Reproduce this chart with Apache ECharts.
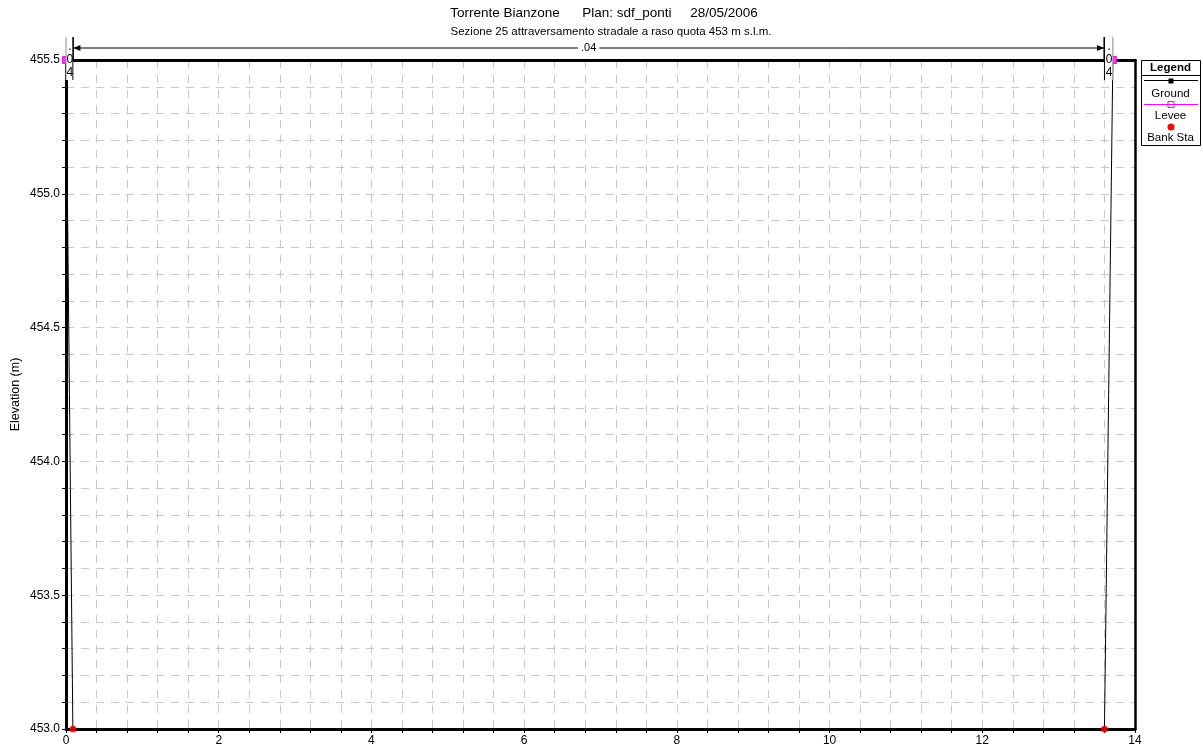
<!DOCTYPE html>
<html>
<head>
<meta charset="utf-8">
<title>Torrente Bianzone - Sezione 25</title>
<script src="https://cdn.jsdelivr.net/npm/echarts@6/dist/echarts.min.js"></script>
<style>
  html, body { margin: 0; padding: 0; background: #fff; }
  #chart { width: 1203px; height: 754px; }
</style>
</head>
<body>
<div id="chart"></div>
<script>
// Cross-section geometry (station in m, elevation in m s.l.m.)
const groundStation = [0, 0.09, 13.6, 13.71];
const groundElev = [455.5, 453.0, 453.0, 455.5];
const leveeStation = [0, 13.71];
const leveeElev = [455.5, 455.5];
const bankStation = [0.09, 13.6];
const bankElev = [453.0, 453.0];
// Manning's n regions: break stations and the n value of each region
const nBreaks = [0, 0.09, 13.6, 13.71];
const nValues = ['.04', '.04', '.04'];
// Axis ranges and labelled ticks
const xMin = 0, xMax = 14, xStep = 0.4, xLabelStep = 2;
const yMin = 453.0, yMax = 455.5, yStep = 0.1, yLabelStep = 0.5;

const FONT = '"Liberation Sans", Arial, sans-serif';

const chart = echarts.init(document.getElementById('chart'));

const zip = (xs, ys) => xs.map((x, i) => [x, ys[i]]);

const nRegions = nValues.map((v, i) => [nBreaks[i], nBreaks[i + 1]]);

// Manning's n annotation above the plot: arrows for wide regions,
// stacked characters for regions too narrow to hold the label.
function renderNValue(params, api) {
  const i = params.dataIndex;
  const start = api.value(0), end = api.value(1);
  const p0 = api.coord([start, yMax]);
  const p1 = api.coord([end, yMax]);
  const yTop = p0[1];
  const lineY = yTop - 12;
  const barTop = yTop - 23;
  const children = [];
  const last = nRegions.length - 1;
  const barColor = (isOuter) => isOuter ? '#8a8a8a' : '#000';
  const text = nValues[i];

  if (p1[0] - p0[0] > 40) {
    const xa = p0[0] + 0.5, xb = p1[0] - 0.5;
    children.push({ type: 'line', shape: { x1: xa, y1: lineY, x2: xb, y2: lineY },
      style: { stroke: '#000', lineWidth: 1 } });
    children.push({ type: 'polygon', shape: { points: [[xa, lineY], [xa + 7, lineY - 3], [xa + 7, lineY + 3]] },
      style: { fill: '#000' } });
    children.push({ type: 'polygon', shape: { points: [[xb, lineY], [xb - 7, lineY - 3], [xb - 7, lineY + 3]] },
      style: { fill: '#000' } });
    children.push({ type: 'text', x: (xa + xb) / 2, y: lineY,
      style: { text: text, fontFamily: FONT, fontSize: 11, fill: '#000', align: 'center',
        verticalAlign: 'middle', backgroundColor: '#fff', padding: [0, 3] } });
    children.push({ type: 'line', shape: { x1: xa, y1: barTop, x2: xa, y2: yTop },
      style: { stroke: barColor(i === 0), lineWidth: 1 } });
    children.push({ type: 'line', shape: { x1: xb, y1: barTop, x2: xb, y2: yTop },
      style: { stroke: barColor(i === last), lineWidth: 1 } });
  } else {
    const mid = (p0[0] + p1[0]) / 2 + 0.5;
    children.push({ type: 'rect', shape: { x: p0[0], y: yTop - 6, width: p1[0] - p0[0], height: 26 },
      style: { fill: '#fff' } });
    children.push({ type: 'line', shape: { x1: p0[0], y1: barTop, x2: p0[0], y2: yTop + 20 },
      style: { stroke: barColor(i === 0), lineWidth: 1 } });
    children.push({ type: 'line', shape: { x1: p1[0], y1: barTop, x2: p1[0], y2: yTop + 20 },
      style: { stroke: barColor(i === last), lineWidth: 1 } });
    text.split('').forEach((g, k) => {
      children.push({ type: 'text', x: mid, y: yTop - 13 + k * 13,
        style: { text: g, fontFamily: FONT, fontSize: 12, fill: '#000', align: 'center', verticalAlign: 'middle' } });
    });
  }
  return { type: 'group', children: children };
}

const legendX = 1141, legendY = 60, legendW = 59, legendH = 85;
const lcx = legendX + legendW / 2;
const legendText = (t, y, bold) => ({
  type: 'text', x: lcx, y: y,
  style: { text: t, fontFamily: FONT, fontSize: 11.5, fontWeight: bold ? 'bold' : 'normal',
    fill: '#000', align: 'center', verticalAlign: 'middle' }, z: 10
});

const gridDash = { color: '#c8c8c8', type: [8, 7], width: 1 };
const frameAxis = { show: true, onZero: false, lineStyle: { color: '#000', width: 3 } };

const option = {
  animation: false,
  backgroundColor: '#fff',
  textStyle: { fontFamily: FONT },
  grid: { left: 66, right: 68, top: 60, bottom: 25, containLabel: false, outerBoundsMode: 'none' },
  xAxis: [
    {
      type: 'value', min: xMin, max: xMax, interval: xStep,
      axisLine: frameAxis,
      axisTick: { show: true, length: 4, lineStyle: { color: '#000' } },
      axisLabel: {
        color: '#000', fontSize: 12, margin: 6, showMinLabel: true, showMaxLabel: true,
        formatter: v => Math.abs(v / xLabelStep - Math.round(v / xLabelStep)) < 1e-6 ? String(Math.round(v)) : ''
      },
      splitLine: { show: true, lineStyle: gridDash }
    },
    {
      type: 'value', position: 'top', min: xMin, max: xMax,
      axisLine: frameAxis, axisTick: { show: false }, axisLabel: { show: false }, splitLine: { show: false }
    }
  ],
  yAxis: [
    {
      type: 'value', min: yMin, max: yMax, interval: yStep,
      name: 'Elevation (m)', nameLocation: 'middle', nameGap: 44, nameRotate: 90, nameMoveOverlap: false,
      nameTextStyle: { color: '#000', fontSize: 12.5, fontFamily: FONT },
      axisLine: frameAxis,
      axisTick: { show: true, length: 4, lineStyle: { color: '#000' } },
      axisLabel: {
        color: '#000', fontSize: 12, margin: 6, showMinLabel: true, showMaxLabel: true,
        formatter: v => Math.abs(v / yLabelStep - Math.round(v / yLabelStep)) < 1e-6 ? v.toFixed(1) : ''
      },
      splitLine: { show: true, lineStyle: gridDash }
    },
    {
      type: 'value', position: 'right', min: yMin, max: yMax,
      axisLine: { show: true, onZero: false, lineStyle: { color: '#000', width: 2.5 } },
      axisTick: { show: false }, axisLabel: { show: false }, splitLine: { show: false }
    }
  ],
  graphic: [
    { type: 'text', x: 604, y: 13, style: { text: 'Torrente Bianzone      Plan: sdf_ponti     28/05/2006',
      fontFamily: FONT, fontSize: 13.5, fill: '#000', align: 'center', verticalAlign: 'middle' } },
    { type: 'text', x: 611, y: 32, style: { text: 'Sezione 25 attraversamento stradale a raso quota 453 m s.l.m.',
      fontFamily: FONT, fontSize: 11.5, fill: '#000', align: 'center', verticalAlign: 'middle' } },
    { type: 'rect', shape: { x: legendX + 0.5, y: legendY + 0.5, width: legendW, height: legendH },
      style: { fill: '#fff', stroke: '#000', lineWidth: 1 }, z: 9 },
    legendText('Legend', legendY + 8, true),
    { type: 'line', shape: { x1: legendX, y1: legendY + 15.5, x2: legendX + legendW, y2: legendY + 15.5 },
      style: { stroke: '#000', lineWidth: 1 }, z: 10 },
    { type: 'line', shape: { x1: legendX + 3, y1: legendY + 20.5, x2: legendX + legendW - 2, y2: legendY + 20.5 },
      style: { stroke: '#000', lineWidth: 1 }, z: 10 },
    { type: 'rect', shape: { x: lcx - 2, y: legendY + 18.5, width: 5, height: 5 }, style: { fill: '#000' }, z: 10 },
    legendText('Ground', legendY + 34, false),
    { type: 'line', shape: { x1: legendX + 3, y1: legendY + 44.5, x2: legendX + legendW - 2, y2: legendY + 44.5 },
      style: { stroke: '#ff00ff', lineWidth: 1 }, z: 10 },
    { type: 'rect', shape: { x: lcx - 2.5, y: legendY + 41.5, width: 6, height: 6 },
      style: { fill: 'none', stroke: '#ff00ff', lineWidth: 1 }, z: 10 },
    legendText('Levee', legendY + 56, false),
    { type: 'circle', shape: { cx: lcx + 0.5, cy: legendY + 67, r: 3.5 }, style: { fill: '#ff0000' }, z: 10 },
    legendText('Bank Sta', legendY + 78, false)
  ],
  series: [
    {
      name: 'Ground', type: 'line', data: zip(groundStation, groundElev), z: 4,
      symbol: 'rect', symbolSize: 4, showAllSymbol: true,
      lineStyle: { color: '#000', width: 1 }, itemStyle: { color: '#000' }, clip: false, silent: true
    },
    {
      name: 'Levee', type: 'line', data: zip(leveeStation, leveeElev), z: 5,
      symbol: 'rect', symbolSize: 7,
      lineStyle: { width: 0, opacity: 0 }, itemStyle: { color: '#ff33ff', borderColor: '#ff00ff', borderWidth: 1 },
      clip: false, silent: true
    },
    {
      name: 'Bank Sta', type: 'scatter', data: zip(bankStation, bankElev), z: 6,
      symbol: 'circle', symbolSize: 7, itemStyle: { color: '#ff0000' }, clip: false, silent: true
    },
    {
      name: 'nValue', type: 'custom', renderItem: renderNValue, clip: false, z: 7,
      encode: { x: [0, 1] }, data: nRegions, silent: true
    }
  ]
};

chart.setOption(option);
</script>
</body>
</html>
